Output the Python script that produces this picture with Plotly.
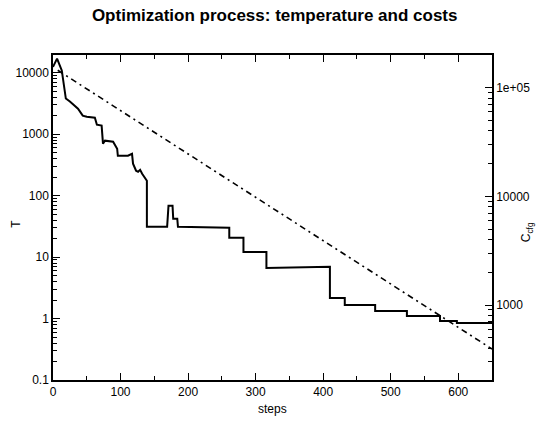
import plotly.graph_objects as go

# Temperature schedule (dash-dot, left axis)
t_steps = [7, 100, 200, 300, 400, 500, 600, 650]
t_values = [11000, 2440, 480, 94.6, 18.6, 3.66, 0.72, 0.319]

# Configuration cost (solid, right axis)
c_steps = [0, 6, 13, 15, 19, 25, 33, 37, 44, 50, 62, 65, 72, 74, 77, 89, 95, 96,
           111, 117, 118.5, 123, 126, 129, 132, 139, 139, 169, 171, 177, 178, 184,
           185, 261, 261, 282, 282, 316, 316, 410, 410, 432, 432, 477, 477, 524,
           524, 573, 573, 598, 598, 650]
c_values = [155000, 185000, 144000, 113500, 79300, 74400, 66800, 64000, 55200,
            54000, 52900, 45600, 44700, 30500, 32500, 31800, 27400, 23600, 23600,
            24600, 19950, 17200, 16800, 17500, 16100, 13900, 5240, 5240, 8170,
            8170, 6210, 6210, 5240, 5130, 4150, 4150, 3080, 3080, 2190, 2250,
            1160, 1160, 1000, 1000, 881, 881, 792, 792, 713, 713, 683, 683]

x_ticks = [0, 100, 200, 300, 400, 500, 600]
t_ticks = [0.1, 1, 10, 100, 1000, 10000]
t_ticktext = ["0.1", "1", "10", "100", "1000", "10000"]
c_ticks = [1000, 10000, 100000]
c_ticktext = ["1000", "10000", "1e+05"]

FONT = "Liberation Sans, Arial, Helvetica, sans-serif"

def minor_log(lo, hi):
    vals = []
    for k in range(lo, hi):
        for d in range(2, 10):
            vals.append(d * 10 ** k)
    return vals

fig = go.Figure()
fig.add_trace(go.Scatter(x=c_steps, y=c_values, mode="lines", yaxis="y2",
                         line=dict(color="black", width=2), showlegend=False))
fig.add_trace(go.Scatter(x=t_steps, y=t_values, mode="lines", yaxis="y",
                         line=dict(color="black", width=1.6, dash="6px,4px,2px,4px"),
                         showlegend=False))

fig.update_layout(
    width=538, height=429,
    margin=dict(l=53, r=46, t=55, b=49, autoexpand=False),
    paper_bgcolor="white", plot_bgcolor="white",
    font=dict(family=FONT, size=12, color="black"),
    title=dict(text="<b>Optimization process: temperature and costs</b>",
               x=0.505, xref="paper", y=1 - 15 / 429, yref="container",
               yanchor="middle", xanchor="center", pad=dict(t=0, b=0),
               font=dict(family=FONT, size=17, color="black")),
    xaxis=dict(range=[0, 650], tickvals=x_ticks, ticks="inside", ticklen=7,
               tickwidth=1.2, tickcolor="black", automargin=False,
               minor=dict(tickvals=[50, 150, 250, 350, 450, 550], ticks="inside",
                          ticklen=4, tickwidth=1.2, tickcolor="black"),
               showline=True, linecolor="black", linewidth=1.5, mirror="ticks",
               showgrid=False, zeroline=False, tickfont=dict(size=12)),
    yaxis=dict(type="log", range=[-1, 4.29], tickvals=t_ticks, ticktext=t_ticktext,
               ticks="inside", ticklen=7, tickwidth=1.2, tickcolor="black",
               automargin=False,
               minor=dict(tickvals=minor_log(-1, 5), ticks="inside", ticklen=4,
                          tickwidth=1, tickcolor="black"),
               showline=True, linecolor="black", linewidth=1.5, mirror=False,
               showgrid=False, zeroline=False, tickfont=dict(size=12)),
    yaxis2=dict(type="log", range=[2.31, 5.30], tickvals=c_ticks, ticktext=c_ticktext,
                overlaying="y", side="right", automargin=False,
                ticks="inside", ticklen=7, tickwidth=1.2, tickcolor="black",
                minor=dict(tickvals=minor_log(2, 6), ticks="inside", ticklen=4,
                           tickwidth=1, tickcolor="black"),
                showline=True, linecolor="black", linewidth=1.5,
                showgrid=False, zeroline=False, tickfont=dict(size=12)),
    annotations=[
        dict(text="steps", xref="paper", yref="paper", x=0.5, y=-0.09,
             xanchor="center", yanchor="middle", showarrow=False,
             font=dict(size=12)),
        dict(text="T", xref="paper", yref="paper", x=-0.085, y=0.48,
             xanchor="center", yanchor="middle", showarrow=False, textangle=-90,
             font=dict(size=12)),
        dict(text="C<sub>cfg</sub>", xref="paper", yref="paper", x=1.08, y=0.455,
             xanchor="center", yanchor="middle", showarrow=False, textangle=-90,
             font=dict(size=12)),
    ],
)

fig.write_html(
    "out.html",
    config={"displayModeBar": False},
    post_script="document.body.style.margin='0';document.body.style.overflow='hidden';",
)
